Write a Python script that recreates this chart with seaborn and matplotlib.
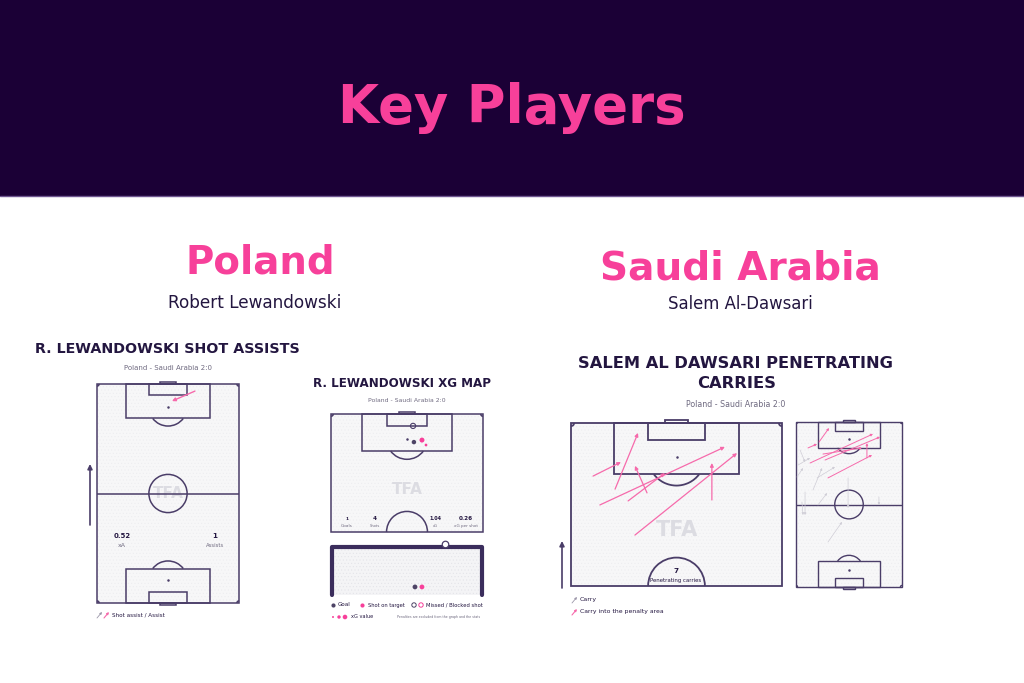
import numpy as np
import pandas as pd
import seaborn as sns
import matplotlib.pyplot as plt
from matplotlib.patches import Rectangle, Arc

sns.set_theme(style='white')
plt.rcParams['font.family'] = ['DejaVu Sans']
plt.rcParams['hatch.linewidth'] = 0.35

W, H = 1024, 683
NAVY = '#1b0036'
PINK = '#f7409a'
CARRY_PINK = '#f66aab'
INK = '#231640'
LINE = '#4a3d68'
GREY = '#6f6a80'
GRASS = '#f7f7f8'
DOT = '#4d4466'

# =============================================
# data
# =============================================
# Lewandowski shot assists (metres: 68 wide, 105 long, attacking upwards)
assist_x0 = [46.9]
assist_y0 = [101.6]
assist_x1 = [35.9]
assist_y1 = [96.8]
assist_values = ['0.52', '1']
assist_labels = ['xA', 'Assists']

# Lewandowski shots
shot_x = [37.1, 40.7, 42.5, 36.7]
shot_y = [92.5, 93.4, 91.2, 99.7]
shot_xg = [0.35, 0.45, 0.08, 0.16]
shot_result = ['Goal', 'Shot on target', 'Shot on target', 'Missed']
# end location in the goal mouth (m from goal centre, m above ground)
mouth_x = [0.39, 0.73, 1.85]
mouth_y = [0.41, 0.41, 2.59]
mouth_result = ['Goal', 'Shot on target', 'Missed']
xg_values = ['1', '4', '1.04', '0.26']
xg_labels = ['Goals', 'Shots', 'xG', 'xG per shot']

# Al-Dawsari penetrating carries (attacking half)
pen_x0 = [7.1, 14.2, 24.5, 9.3, 18.4, 20.6, 45.4]
pen_y0 = [87.9, 83.7, 82.5, 78.6, 79.9, 68.9, 80.2]
pen_x1 = [16.1, 21.6, 20.6, 49.6, 30.3, 53.5, 45.4]
pen_y1 = [92.4, 101.8, 91.2, 97.3, 88.9, 95.3, 92.1]
pen_total = '7'

# Al-Dawsari all carries (full pitch)
carry_x0 = [7.7, 14.8, 9.0, 18.6, 20.5, 45.5, 17.3,
            2.6, 1.3, 0.6, 10.9, 13.5, 5.8, 3.8, 14.1, 33.4, 20.5, 53.2]
carry_y0 = [88.5, 92.3, 78.9, 80.8, 69.4, 82.1, 84.6,
            87.2, 77.6, 70.0, 61.7, 69.4, 60.5, 54.1, 52.2, 69.4, 28.6, 57.3]
carry_x1 = [13.5, 21.2, 49.4, 53.9, 48.8, 45.5, 42.3,
            5.8, 9.0, 4.5, 16.7, 25.0, 5.8, 4.5, 19.9, 33.4, 29.5, 53.2]
carry_y1 = [91.0, 101.2, 97.4, 95.5, 84.0, 91.6, 88.5,
            79.5, 82.1, 75.7, 75.7, 76.4, 45.8, 45.8, 59.8, 50.3, 41.4, 52.2]
carry_into_box = [True] * 7 + [False] * 11

# =============================================
# helpers
# =============================================
fig = plt.figure(figsize=(W / 100, H / 100), dpi=100)
fig.patch.set_facecolor('white')
renderer = fig.canvas.get_renderer()

ov = fig.add_axes([0, 0, 1, 1], zorder=10)
ov.set_xlim(0, W)
ov.set_ylim(H, 0)
ov.set_axis_off()


def txt(x, y, s, width, ha='center', va='baseline', color=INK, weight='normal', size=10):
    t = ov.text(x, y, s, ha=ha, va=va, color=color, fontweight=weight, fontsize=size, zorder=20)
    w = t.get_window_extent(renderer).width
    t.set_fontsize(size * width / w)
    return t


def px_axes(x0, y0, x1, y1):
    ax = fig.add_axes([x0 / W, 1 - y1 / H, (x1 - x0) / W, (y1 - y0) / H])
    ax.set_axis_off()
    return ax


def draw_pitch(ax, half=False, lw=1.1):
    y_min = 52.5 if half else 0
    ax.set_xlim(0, 68)
    ax.set_ylim(y_min, 105)
    ax.add_patch(Rectangle((0, y_min), 68, 105 - y_min, fc=GRASS, ec='none', zorder=0))
    ax.add_patch(Rectangle((0, y_min), 68, 105 - y_min, fill=False, hatch='.....',
                           ec='#ececf0', lw=0, zorder=0))
    kw = dict(fill=False, ec=LINE, lw=lw, clip_on=False, zorder=2)
    ax.add_patch(Rectangle((0, y_min), 68, 105 - y_min, **kw))
    # top end
    ax.add_patch(Rectangle((13.84, 88.5), 40.32, 16.5, **kw))
    ax.add_patch(Rectangle((24.84, 99.5), 18.32, 5.5, **kw))
    ax.add_patch(Rectangle((30.34, 105), 7.32, 1.0, **kw))
    ax.add_patch(Arc((34, 94), 18.3, 18.3, theta1=216.9, theta2=323.1, **kw))
    ax.plot([34], [94], marker='o', ms=0.8, color=LINE, zorder=2)
    ax.add_patch(Arc((0, 105), 2, 2, theta1=270, theta2=360, **kw))
    ax.add_patch(Arc((68, 105), 2, 2, theta1=180, theta2=270, **kw))
    if half:
        ax.add_patch(Arc((34, 52.5), 18.3, 18.3, theta1=0, theta2=180, **kw))
        return
    ax.plot([0, 68], [52.5, 52.5], color=LINE, lw=lw, zorder=2)
    ax.add_patch(Arc((34, 52.5), 18.3, 18.3, **kw))
    ax.add_patch(Rectangle((13.84, 0), 40.32, 16.5, **kw))
    ax.add_patch(Rectangle((24.84, 0), 18.32, 5.5, **kw))
    ax.add_patch(Rectangle((30.34, -1.0), 7.32, 1.0, **kw))
    ax.add_patch(Arc((34, 11), 18.3, 18.3, theta1=36.9, theta2=143.1, **kw))
    ax.plot([34], [11], marker='o', ms=0.8, color=LINE, zorder=2)
    ax.add_patch(Arc((0, 0), 2, 2, theta1=0, theta2=90, **kw))
    ax.add_patch(Arc((68, 0), 2, 2, theta1=90, theta2=180, **kw))


def arrow(ax, x0, y0, x1, y1, color, lw=0.9, ms=5):
    ax.annotate('', xy=(x1, y1), xytext=(x0, y0), zorder=4,
                arrowprops=dict(arrowstyle='-|>', color=color, lw=lw,
                                mutation_scale=ms, shrinkA=0, shrinkB=0))


# =============================================
# header
# =============================================
ov.add_patch(Rectangle((0, 0), W, 196, fc=NAVY, ec='none', zorder=0))
ov.plot([0, W], [196, 196], color='#6e5690', lw=1, zorder=1)
txt(512, 123, 'Key Players', 348, color=PINK, weight='bold')

txt(260, 273, 'Poland', 150, color=PINK, weight='bold')
txt(255, 308, 'Robert Lewandowski', 174, color=INK)
txt(740, 279, 'Saudi Arabia', 281, color=PINK, weight='bold')
txt(740, 309, 'Salem Al-Dawsari', 145, color=INK)

# =============================================
# Lewandowski shot assists
# =============================================
txt(35, 353, 'R. LEWANDOWSKI SHOT ASSISTS', 265, ha='left', weight='bold')
txt(168, 370, 'Poland - Saudi Arabia 2:0', 88, color=GREY)
ax1 = px_axes(97, 384, 239, 603)
draw_pitch(ax1)
ax1.text(34, 52.5, 'TFA', ha='center', va='center', color='#dcdce2',
         fontweight='bold', fontsize=11, zorder=1)
for i in range(len(assist_x0)):
    arrow(ax1, assist_x0[i], assist_y0[i], assist_x1[i], assist_y1[i], CARRY_PINK, lw=1.0)
for cx, v, lab in zip([122, 215], assist_values, assist_labels):
    txt(cx, 538, v, 17 if len(v) > 1 else 5, weight='bold')
    txt(cx, 547, lab, 8 if len(lab) < 3 else 18, color=GREY)
ov.annotate('', xy=(90, 464), xytext=(90, 525),
            arrowprops=dict(arrowstyle='-|>', color=LINE, lw=1.2, mutation_scale=7, shrinkA=0, shrinkB=0))
ov.annotate('', xy=(102, 612), xytext=(97, 618),
            arrowprops=dict(arrowstyle='-|>', color='#9c97aa', lw=0.6, mutation_scale=3, shrinkA=0, shrinkB=0))
ov.annotate('', xy=(109, 612), xytext=(104, 618),
            arrowprops=dict(arrowstyle='-|>', color=CARRY_PINK, lw=0.8, mutation_scale=3, shrinkA=0, shrinkB=0))
txt(112, 615, 'Shot assist / Assist', 52, ha='left', va='center')

# =============================================
# Lewandowski xG map
# =============================================
txt(313, 387, 'R. LEWANDOWSKI XG MAP', 177, ha='left', weight='bold')
txt(407, 402, 'Poland - Saudi Arabia 2:0', 78, color=GREY)
ax2 = px_axes(331, 414, 483, 532)
draw_pitch(ax2, half=True)
ax2.text(34, 71.2, 'TFA', ha='center', va='center', color='#dcdce2',
         fontweight='bold', fontsize=11, zorder=1)
shots = pd.DataFrame({'x': shot_x, 'y': shot_y, 'xg': shot_xg, 'result': shot_result})
filled = shots[shots.result != 'Missed']
sns.scatterplot(data=filled, x='x', y='y', hue='result', size='xg', sizes=(2, 14),
                size_norm=(0, 0.5), palette={'Goal': DOT, 'Shot on target': PINK},
                linewidth=0, legend=False, ax=ax2, zorder=5)
missed = shots[shots.result == 'Missed']
ax2.scatter(missed.x, missed.y, s=14, facecolor='none', edgecolor=LINE, lw=0.8, zorder=5)
ax2.set_xlim(0, 68)
ax2.set_ylim(52.5, 105)
for cx, v, lab, wv, wl in zip([347, 375, 435, 466], xg_values, xg_labels,
                              [3, 4, 12, 14], [12, 10, 5, 24]):
    txt(cx, 520, v, wv, weight='bold')
    txt(cx, 527, lab, wl, color=GREY)

ax3 = px_axes(332, 547, 482, 595)
ax3.add_patch(Rectangle((-3.66, 0), 7.32, 2.44, fc='#f4f4f6', ec='none', zorder=0))
ax3.add_patch(Rectangle((-3.66, 0), 7.32, 2.44, fill=False, hatch='.....',
                        ec='#e2e2e8', lw=0, zorder=0))
ax3.plot([-3.66, -3.66, 3.66, 3.66], [0, 2.44, 2.44, 0], color='#3b2d5c', lw=3,
         solid_joinstyle='round', clip_on=False, zorder=3)
mouth = pd.DataFrame({'x': mouth_x, 'y': mouth_y, 'result': mouth_result})
sns.scatterplot(data=mouth[mouth.result != 'Missed'], x='x', y='y', hue='result',
                palette={'Goal': DOT, 'Shot on target': PINK}, s=12, linewidth=0,
                legend=False, ax=ax3, zorder=5)
m2 = mouth[mouth.result == 'Missed']
ax3.scatter(m2.x, m2.y, s=22, facecolor='white', edgecolor=LINE, lw=0.9, zorder=5, clip_on=False)
ax3.set_xlim(-3.66, 3.66)
ax3.set_ylim(0, 2.44)
ax3.set_axis_off()

ov.scatter([333], [605], s=9, color=DOT, lw=0)
txt(338, 605, 'Goal', 13, ha='left', va='center', color=INK)
ov.scatter([362], [605], s=9, color=PINK, lw=0)
txt(368, 605, 'Shot on target', 37, ha='left', va='center', color=INK)
ov.scatter([414], [605], s=10, facecolor='none', edgecolor=DOT, lw=0.7)
ov.scatter([421], [605], s=10, facecolor='none', edgecolor=PINK, lw=0.7)
txt(426, 605, 'Missed / Blocked shot', 57, ha='left', va='center', color=INK)
ov.scatter([333, 339, 345], [617, 617, 617], s=[2, 6, 11], color=PINK, lw=0)
txt(351, 617, 'xG value', 22, ha='left', va='center', color=INK)
txt(397, 617, 'Penalties are excluded from the graph and the stats', 85, ha='left',
    va='center', color=GREY)

# =============================================
# Al-Dawsari penetrating carries
# =============================================
txt(736, 368, 'SALEM AL DAWSARI PENETRATING', 316, weight='bold')
txt(737, 388, 'CARRIES', 79, weight='bold')
txt(736, 407, 'Poland - Saudi Arabia 2:0', 99, color=GREY)
ax4 = px_axes(571, 423, 782, 586)
draw_pitch(ax4, half=True, lw=1.3)
ax4.text(34, 70.5, 'TFA', ha='center', va='center', color='#dcdce2',
         fontweight='bold', fontsize=15, zorder=1)
for i in range(len(pen_x0)):
    arrow(ax4, pen_x0[i], pen_y0[i], pen_x1[i], pen_y1[i], CARRY_PINK, lw=0.9, ms=5)
txt(676, 573, pen_total, 5, weight='bold')
txt(676, 582, 'Penetrating carries', 51, color=INK)
ov.annotate('', xy=(562, 541), xytext=(562, 588),
            arrowprops=dict(arrowstyle='-|>', color=LINE, lw=1.2, mutation_scale=7, shrinkA=0, shrinkB=0))
ov.annotate('', xy=(577, 597), xytext=(572, 603),
            arrowprops=dict(arrowstyle='-|>', color='#9c97aa', lw=0.6, mutation_scale=3, shrinkA=0, shrinkB=0))
txt(580, 600, 'Carry', 17, ha='left', va='center')
ov.annotate('', xy=(577, 609), xytext=(572, 615),
            arrowprops=dict(arrowstyle='-|>', color=CARRY_PINK, lw=0.8, mutation_scale=3, shrinkA=0, shrinkB=0))
txt(580, 612, 'Carry into the penalty area', 84, ha='left', va='center')

ax5 = px_axes(796, 422, 902, 587)
draw_pitch(ax5, lw=1.0)
for i in range(len(carry_x0)):
    col = CARRY_PINK if carry_into_box[i] else '#cfcdd6'
    arrow(ax5, carry_x0[i], carry_y0[i], carry_x1[i], carry_y1[i], col,
          lw=0.7 if carry_into_box[i] else 0.5, ms=3)

fig.savefig('out.png', dpi=100, facecolor='white')
